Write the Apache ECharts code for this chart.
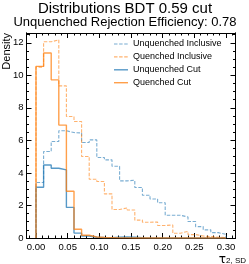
<!DOCTYPE html>
<html>
<head>
<meta charset="utf-8">
<script src="https://cdn.jsdelivr.net/npm/echarts@6/dist/echarts.min.js"></script>
<style>
html,body{margin:0;padding:0;background:#fff;}
#c{width:249px;height:264px;}
</style>
</head>
<body>
<div id="c"></div>
<script>
const binEdges = [0, 0.012, 0.024, 0.036, 0.048, 0.06, 0.072, 0.084, 0.096, 0.108, 0.12, 0.132, 0.144, 0.156, 0.168, 0.18, 0.192, 0.204, 0.216, 0.228, 0.24, 0.252, 0.264, 0.276, 0.288, 0.3];
const seriesNames = ['Unquenched Inclusive', 'Quenched Inclusive', 'Unquenched Cut', 'Quenched Cut'];
const unquenchedInclusive = [3.41, 5.32, 5.93, 6.59, 6.48, 6.46, 5.87, 6.03, 4.95, 4.80, 4.41, 3.51, 3.55, 3.10, 2.63, 2.40, 2.17, 1.40, 1.40, 1.29, 1.01, 0.70, 0.50, 0.33, 0.22];
const quenchedInclusive = [10.5, 12.06, 12.18, 9.35, 7.47, 7.16, 5.01, 3.61, 3.47, 2.71, 1.75, 1.85, 1.72, 1.10, 0.97, 0.98, 0.77, 0.80, 0.29, 0.41, 0.21, 0.12, 0.09, 0.05, 0.03];
const unquenchedCut = [3.12, 4.49, 4.29, 4.19, 1.88, 0.30, 0.12, 0.05, 0.03, 0.02, 0.05, 0.06, 0.05, 0.02, 0.01, 0.01, 0, 0, 0, 0, 0, 0, 0, 0, 0];
const quenchedCut = [10.55, 11.37, 9.72, 6.94, 2.87, 0.54, 0.17, 0.06, 0.03, 0.02, 0.01, 0.01, 0, 0, 0, 0, 0, 0, 0, 0, 0, 0, 0, 0, 0];
const xMajorTicks = [0, 0.05, 0.1, 0.15, 0.2, 0.25, 0.3];
const xMinorTicks = [-0.01, 0.01, 0.02, 0.03, 0.04, 0.06, 0.07, 0.08, 0.09, 0.11, 0.12, 0.13, 0.14, 0.16, 0.17, 0.18, 0.19, 0.21, 0.22, 0.23, 0.24, 0.26, 0.27, 0.28, 0.29, 0.31];
const yMajorTicks = [0, 2, 4, 6, 8, 10, 12];
const yMinorTicks = [0.5, 1, 1.5, 2.5, 3, 3.5, 4.5, 5, 5.5, 6.5, 7, 7.5, 8.5, 9, 9.5, 10.5, 11, 11.5, 12.5];

const X_MIN = -0.015, X_MAX = 0.315, Y_MIN = 0, Y_MAX = 12.6;
const BLUE = '#1f77b4', ORANGE = '#ff7f0e';
const FONT = '"Liberation Sans", Arial, sans-serif';
const DASH = [3.5, 1.6];

const styles = [
  { color: BLUE, dashed: true, width: 1.1, opacity: 0.6 },
  { color: ORANGE, dashed: true, width: 1.1, opacity: 0.6 },
  { color: BLUE, dashed: false, width: 1.4, opacity: 0.75 },
  { color: ORANGE, dashed: false, width: 1.4, opacity: 0.75 }
];
const seriesValues = [unquenchedInclusive, quenchedInclusive, unquenchedCut, quenchedCut];

function stepData(vals) {
  const last = binEdges.length - 1;
  const d = [[binEdges[0], 0]];
  vals.forEach((v, i) => d.push([binEdges[i], v]));
  d.push([binEdges[last], vals[vals.length - 1]]);
  d.push([binEdges[last], 0]);
  return d;
}

function xAxisDef(pos, ticks, len, labels) {
  return {
    type: 'value', gridIndex: 0, position: pos, min: X_MIN, max: X_MAX,
    axisLine: { show: true, onZero: false, lineStyle: { color: '#000', width: 1 } },
    axisTick: { show: true, inside: true, length: len, customValues: ticks, lineStyle: { color: '#000', width: 1 } },
    axisLabel: { show: labels, customValues: ticks, formatter: v => v.toFixed(2), fontSize: 9.5, color: '#000', margin: 4, fontFamily: FONT },
    splitLine: { show: false }
  };
}
function yAxisDef(pos, ticks, len, labels) {
  return {
    type: 'value', gridIndex: 0, position: pos, min: Y_MIN, max: Y_MAX,
    axisLine: { show: true, onZero: false, lineStyle: { color: '#000', width: 1 } },
    axisTick: { show: true, inside: true, length: len, customValues: ticks, lineStyle: { color: '#000', width: 1 } },
    axisLabel: { show: labels, customValues: ticks, formatter: v => String(Math.round(v)), fontSize: 9.5, color: '#000', margin: 3, fontFamily: FONT },
    splitLine: { show: false }
  };
}

const series = seriesNames.map((name, i) => ({
  name: name, type: 'line', step: 'end', xAxisIndex: 0, yAxisIndex: 0,
  data: stepData(seriesValues[i]), symbol: 'none', showSymbol: false, silent: true, animation: false,
  lineStyle: { color: styles[i].color, width: styles[i].width, type: styles[i].dashed ? DASH : 'solid', opacity: styles[i].opacity }
}));

const legendGraphics = [];
seriesNames.forEach((name, i) => {
  const y = 44 + 12.9 * i;
  const s = styles[i];
  legendGraphics.push({ type: 'line', shape: { x1: 114, y1: y, x2: 128, y2: y }, style: { stroke: s.color, lineWidth: s.width, lineDash: s.dashed ? DASH : null, opacity: s.opacity }, silent: true });
  legendGraphics.push({ type: 'text', x: 133, y: y, style: { text: name, font: '9px ' + FONT, fill: '#000', textAlign: 'left', textVerticalAlign: 'middle' }, silent: true });
});

const chart = echarts.init(document.getElementById('c'), null, { renderer: 'canvas' });
chart.setOption({
  backgroundColor: '#fff',
  animation: false,
  grid: { left: 26.5, right: 13.5, top: 33, bottom: 26, containLabel: false },
  xAxis: [
    xAxisDef('bottom', xMajorTicks, 5, true),
    xAxisDef('bottom', xMinorTicks, 2.5, false),
    xAxisDef('top', xMajorTicks, 5, false),
    xAxisDef('top', xMinorTicks, 2.5, false)
  ],
  yAxis: [
    yAxisDef('left', yMajorTicks, 5, true),
    yAxisDef('left', yMinorTicks, 2.5, false),
    yAxisDef('right', yMajorTicks, 5, false),
    yAxisDef('right', yMinorTicks, 2.5, false)
  ],
  series: series,
  graphic: [
    { type: 'text', x: 125, y: 1, style: { text: 'Distributions BDT 0.59 cut', font: '15px ' + FONT, fill: '#000', textAlign: 'center', textVerticalAlign: 'top' } },
    { type: 'text', x: 125, y: 16, style: { text: 'Unquenched Rejection Efficiency: 0.78', font: '13px ' + FONT, fill: '#000', textAlign: 'center', textVerticalAlign: 'top' } },
    { type: 'text', x: 7, y: 33, rotation: Math.PI / 2, style: { text: 'Density', font: '11px ' + FONT, fill: '#000', textAlign: 'right', textVerticalAlign: 'middle' } },
    { type: 'text', x: 226, y: 266, style: { text: 'τ', font: '12px "DejaVu Sans", sans-serif', fill: '#000', textAlign: 'right', textVerticalAlign: 'bottom' } },
    { type: 'text', x: 226, y: 265, style: { text: '2, SD', font: '8px ' + FONT, fill: '#000', textAlign: 'left', textVerticalAlign: 'bottom' } }
  ].concat(legendGraphics)
});
</script>
</body>
</html>
